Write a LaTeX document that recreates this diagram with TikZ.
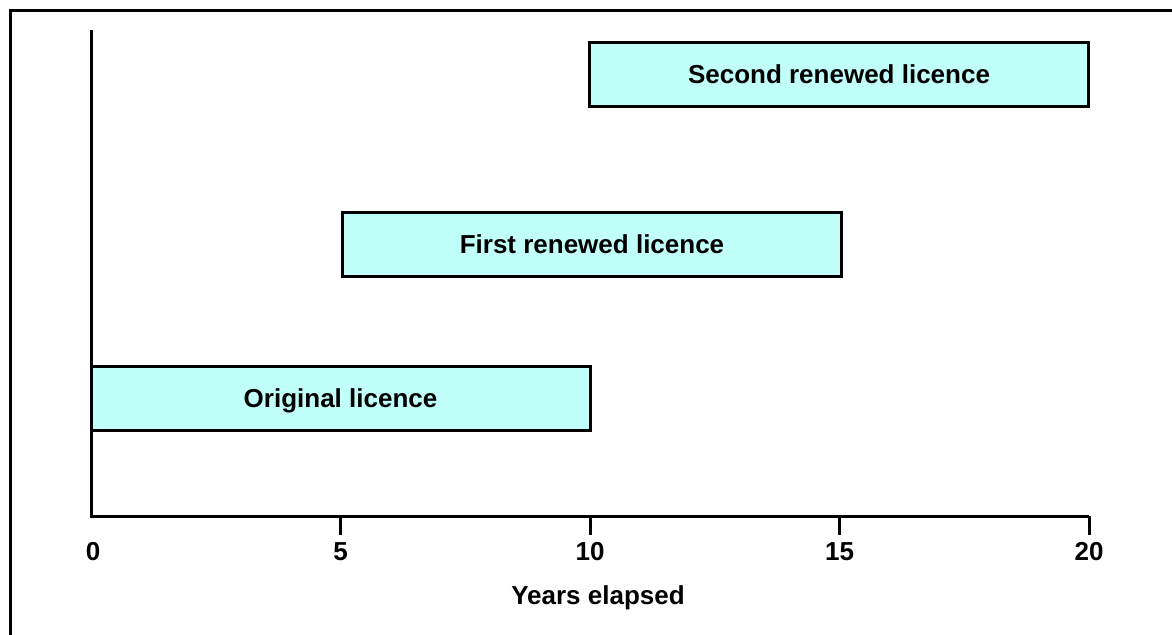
\documentclass[tikz,border=0pt]{standalone}
\usepackage{fontspec}
\setmainfont{Liberation Sans}
\definecolor{licfill}{RGB}{192,255,250}
\tikzset{licence/.style={draw, fill=licfill, minimum width=249.5pt, minimum height=32pt, inner sep=0pt, text height=9.3pt, text depth=0pt},
         ticklab/.style={inner sep=0pt, text height=9.3pt, text depth=0pt}}
\begin{document}
\begin{tikzpicture}[x=0.5pt, y=-0.5pt, line width=1.5pt, font=\fontsize{13}{15}\selectfont\bfseries]
\useasboundingbox (0,0) rectangle (1172,634);
\clip (0,0) rectangle (1172,634);
\draw (10.5,10.5) rectangle (1200,660);
% axes
\draw (91,30) coordinate(ytop) -- (91,516) coordinate(orig) -- (1089,516) coordinate(xend);
\foreach \t/\yr in {1/5,2/10,3/15,4/20}
    \draw (91+\t*249.5,516) -- (91+\t*249.5,535);
\node[ticklab] (y0) at (93,551.5) {0};
\foreach \t/\yr in {1/5,2/10,3/15,4/20}
    \node[ticklab] (y\yr) at (91+\t*249.5,551.5) {\yr};
\node[ticklab] (xlab) at (598,595.5) {Years elapsed};
% licences
\node[licence] (lic0) at (340.5,398) {Original licence};
\node[licence] (lic1) at (592,244) {First renewed licence};
\node[licence] (lic2) at (839,74) {Second renewed licence};
\end{tikzpicture}
\end{document}
